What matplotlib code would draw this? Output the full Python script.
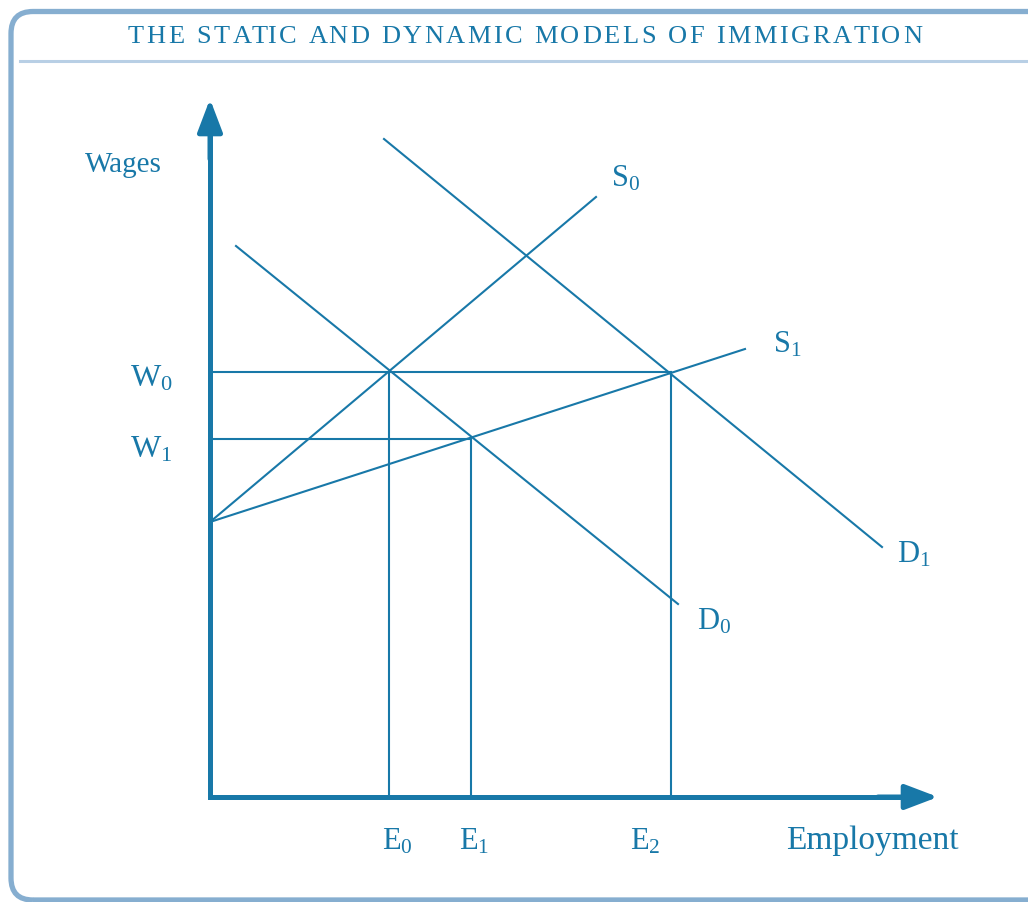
import matplotlib
matplotlib.use('Agg')
import matplotlib.pyplot as plt
from matplotlib.patches import FancyBboxPatch

plt.rcParams['font.family'] = ['Liberation Serif', 'DejaVu Serif']
plt.rcParams['mathtext.fontset'] = 'custom'
plt.rcParams['mathtext.rm'] = 'Liberation Serif'
plt.rcParams['mathtext.it'] = 'Liberation Serif:italic'

# Diagram data (employment, wage units)
E = [17.9, 26.1, 46.1]          # E0, E1, E2
W = [42.5, 35.8]                # W0, W1
s0_x, s0_y = [0, 38.6], [27.5, 60.0]
s1_x, s1_y = [0, 53.5], [27.5, 44.8]
d0_x, d0_y = [2.6, 46.8], [55.1, 19.3]
d1_x, d1_y = [17.4, 67.2], [65.8, 25.0]
x_axis_end = 72.8
y_axis_top = 69.8

title = 'THE STATIC AND DYNAMIC MODELS OF IMMIGRATION'

blue = '#1878a8'
frame_col = '#86aed0'
rule_col = '#b8cfe5'

fig = plt.figure(figsize=(10.28, 9.03), dpi=100)
renderer = fig.canvas.get_renderer()

# background frame in pixel coords (origin bottom left)
bg = fig.add_axes([0, 0, 1, 1])
bg.set_xlim(0, 1028)
bg.set_ylim(0, 903)
bg.axis('off')
frame = FancyBboxPatch((11, 2), 1100, 888.5, boxstyle='round,pad=0,rounding_size=22',
                       fill=False, edgecolor=frame_col, linewidth=3.8)
bg.add_patch(frame)
bg.plot([20, 1028], [841.5, 841.5], color=rule_col, linewidth=2.2)


def text_width(s, **kw):
    t = bg.text(0, 0, s, **kw)
    w = t.get_window_extent(renderer).width
    t.remove()
    return w


# title: slightly letter-spaced to span the same width as the original
tkw = dict(color=blue, fontsize=19, va='baseline', ha='left')
bar_w = text_width('|', **tkw)
prefix = [text_width(title[:i] + '|', **tkw) - bar_w for i in range(len(title))]
natural = text_width(title, **tkw)
left, span = 128, 794
track = (span - natural) / (len(title) - 1)
for i, ch in enumerate(title):
    if ch != ' ':
        bg.text(left + prefix[i] + i * track, 860, ch, **tkw)

# chart axes
ax = fig.add_axes([0, 0, 1, 1])
ax.patch.set_alpha(0)
ax.set_xlim(-21.0, 81.8)
ax.set_ylim(-10.5, 79.8)
ax.axis('off')

lw = 1.5
ax.plot(s0_x, s0_y, color=blue, linewidth=lw)
ax.plot(s1_x, s1_y, color=blue, linewidth=lw)
ax.plot(d0_x, d0_y, color=blue, linewidth=lw)
ax.plot(d1_x, d1_y, color=blue, linewidth=lw)

# guide lines
ax.plot([0, E[2]], [W[0], W[0]], color=blue, linewidth=lw)
ax.plot([0, E[1]], [W[1], W[1]], color=blue, linewidth=lw)
ax.plot([E[0], E[0]], [0, W[0]], color=blue, linewidth=lw)
ax.plot([E[1], E[1]], [0, W[1]], color=blue, linewidth=lw)
ax.plot([E[2], E[2]], [0, W[0]], color=blue, linewidth=lw)

# axes: L-shaped shaft plus arrow heads
ax.plot([0, 0, x_axis_end - 2], [y_axis_top - 2, 0, 0], color=blue, linewidth=3.6,
        solid_joinstyle='miter', solid_capstyle='butt')
arrow = dict(arrowstyle='-|>,head_length=1.0,head_width=0.38', color=blue,
             linewidth=3.6, mutation_scale=20, shrinkA=0, shrinkB=0)
ax.annotate('', xy=(0, y_axis_top), xytext=(0, y_axis_top - 6), arrowprops=arrow)
ax.annotate('', xy=(x_axis_end, 0), xytext=(x_axis_end - 6, 0), arrowprops=arrow)

# labels
ax.text(-12.5, 62.6, 'Wages', color=blue, fontsize=21, va='baseline')
ax.text(57.6, -5.1, 'Employment', color=blue, fontsize=24, va='baseline')
ax.text(-8.0, 41.1, r'$\mathrm{W}_0$', color=blue, fontsize=23, va='baseline')
ax.text(-8.0, 34.0, r'$\mathrm{W}_1$', color=blue, fontsize=23, va='baseline')
ax.text(17.2, -5.2, r'$\mathrm{E}_0$', color=blue, fontsize=22, va='baseline')
ax.text(24.9, -5.2, r'$\mathrm{E}_1$', color=blue, fontsize=22, va='baseline')
ax.text(42.0, -5.2, r'$\mathrm{E}_2$', color=blue, fontsize=22, va='baseline')
ax.text(40.1, 61.1, r'$\mathrm{S}_0$', color=blue, fontsize=22, va='baseline')
ax.text(56.3, 44.5, r'$\mathrm{S}_1$', color=blue, fontsize=22, va='baseline')
ax.text(48.7, 16.8, r'$\mathrm{D}_0$', color=blue, fontsize=22, va='baseline')
ax.text(68.7, 23.5, r'$\mathrm{D}_1$', color=blue, fontsize=22, va='baseline')

fig.savefig('out.png', dpi=100)
